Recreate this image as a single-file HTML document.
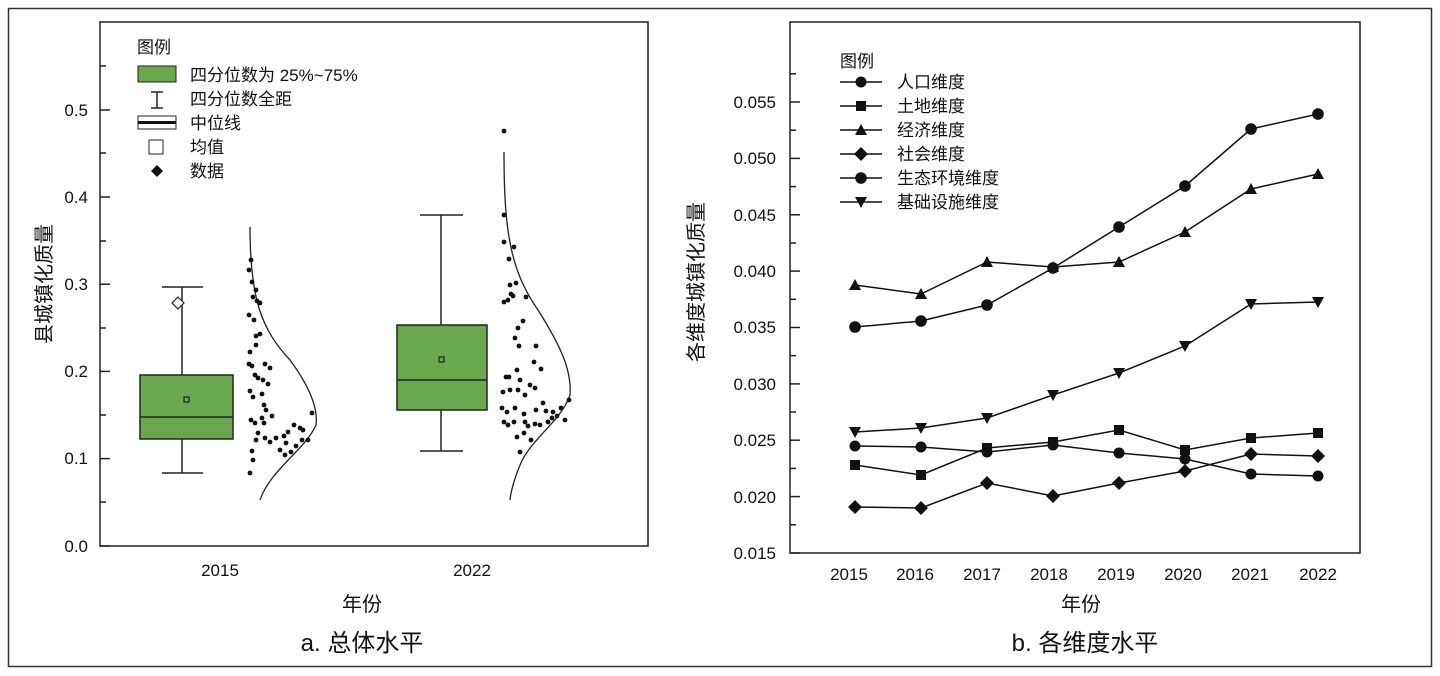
<!DOCTYPE html>
<html><head><meta charset="utf-8"><style>
html,body{margin:0;padding:0;background:#fff;}
svg{display:block;font-family:"Liberation Sans","Noto Sans CJK SC",sans-serif;}
</style></head><body>
<svg width="1440" height="676" viewBox="0 0 1440 676" xmlns="http://www.w3.org/2000/svg">
<rect x="8.5" y="8.5" width="1423" height="658" fill="#fff" stroke="#333" stroke-width="1.5"/>
<!-- LEFT PANEL -->
<rect x="100" y="22" width="548" height="524" fill="none" stroke="#222" stroke-width="1.5"/>
<g stroke="#222" stroke-width="1.5">
<line x1="100" y1="546" x2="110" y2="546"/><line x1="100" y1="458.6" x2="110" y2="458.6"/><line x1="100" y1="371.4" x2="110" y2="371.4"/><line x1="100" y1="284.2" x2="110" y2="284.2"/><line x1="100" y1="197" x2="110" y2="197"/><line x1="100" y1="110" x2="110" y2="110"/>
<line x1="100" y1="502" x2="106" y2="502"/><line x1="100" y1="415" x2="106" y2="415"/><line x1="100" y1="328" x2="106" y2="328"/><line x1="100" y1="241" x2="106" y2="241"/><line x1="100" y1="153" x2="106" y2="153"/><line x1="100" y1="66" x2="106" y2="66"/>
</g>
<g font-size="17" text-anchor="end" fill="#111">
<text x="88" y="552">0.0</text><text x="88" y="464">0.1</text><text x="88" y="377">0.2</text><text x="88" y="290">0.3</text><text x="88" y="203">0.4</text><text x="88" y="116">0.5</text>
</g>
<text transform="translate(51,284) rotate(-90)" font-size="20" text-anchor="middle" fill="#111">县城镇化质量</text>
<g font-size="17" text-anchor="middle" fill="#111"><text x="220" y="576">2015</text><text x="472" y="576">2022</text></g>
<text x="362" y="611" font-size="20" text-anchor="middle" fill="#111">年份</text>
<text x="362" y="651" font-size="24" text-anchor="middle" fill="#111">a. 总体水平</text>
<!-- legend left -->
<g font-size="17" fill="#111">
<text x="137" y="53">图例</text>
<rect x="138" y="66" width="38" height="16" fill="#6aa84f" stroke="#222" stroke-width="1"/>
<text x="190" y="81">四分位数为 25%~75%</text>
<g stroke="#222" stroke-width="1.5"><line x1="157" y1="92" x2="157" y2="108"/><line x1="151" y1="92" x2="163" y2="92"/><line x1="151" y1="108" x2="163" y2="108"/></g>
<text x="190" y="105">四分位数全距</text>
<rect x="138" y="116" width="38" height="13" fill="#fff" stroke="#222" stroke-width="1"/><line x1="138" y1="122.5" x2="176" y2="122.5" stroke="#111" stroke-width="3"/>
<text x="190" y="129">中位线</text>
<rect x="149" y="140" width="14" height="14" fill="#fff" stroke="#222" stroke-width="1"/>
<text x="190" y="153">均值</text>
<path d="M157 165 L163 171 L157 177 L151 171Z" fill="#111"/>
<text x="190" y="177">数据</text>
</g>
<!-- box 2015 -->
<g stroke="#222" stroke-width="1.5" fill="none">
<line x1="182" y1="287" x2="182" y2="375"/><line x1="182" y1="439" x2="182" y2="473"/>
<line x1="162" y1="287" x2="203" y2="287"/><line x1="162" y1="473" x2="203" y2="473"/>
<rect x="140" y="375" width="93" height="64" fill="#6aa84f"/>
<line x1="140" y1="417" x2="233" y2="417"/>
<rect x="184" y="397" width="5" height="5" stroke-width="1.2"/>
<path d="M178 297 L184 303 L178 309 L172 303Z" fill="#fff" stroke-width="1.2"/>
<path d="M250 227 C250 300 262 330 290 360 C312 390 318 410 316 425 C305 450 270 470 260 500" stroke-width="1.3"/>
</g>
<!-- box 2022 -->
<g stroke="#222" stroke-width="1.5" fill="none">
<line x1="441" y1="215" x2="441" y2="325"/><line x1="441" y1="410" x2="441" y2="451"/>
<line x1="420" y1="215" x2="463" y2="215"/><line x1="420" y1="451" x2="463" y2="451"/>
<rect x="397" y="325" width="90" height="85" fill="#6aa84f"/>
<line x1="397" y1="380" x2="487" y2="380"/>
<rect x="439" y="357" width="5" height="5" stroke-width="1.2"/>
<path d="M504 152 C504 230 510 270 538 310 C560 345 572 370 570 395 C562 420 530 440 520 465 C514 480 511 490 510 500" stroke-width="1.3"/>
</g>
<g fill="#111" id="d1">
<circle cx="251" cy="260" r="2.4"/><circle cx="249" cy="270" r="2.4"/><circle cx="252" cy="282" r="2.4"/><circle cx="256" cy="290" r="2.4"/><circle cx="253" cy="297" r="2.4"/><circle cx="257" cy="301" r="2.4"/><circle cx="260" cy="303" r="2.4"/><circle cx="249" cy="315" r="2.4"/><circle cx="254" cy="320" r="2.4"/><circle cx="256" cy="336" r="2.4"/><circle cx="260" cy="334" r="2.4"/><circle cx="250" cy="352" r="2.4"/><circle cx="256" cy="345" r="2.4"/><circle cx="249" cy="364" r="2.4"/><circle cx="252" cy="366" r="2.4"/><circle cx="265" cy="364" r="2.4"/><circle cx="270" cy="368" r="2.4"/><circle cx="255" cy="375" r="2.4"/><circle cx="258" cy="378" r="2.4"/><circle cx="263" cy="380" r="2.4"/><circle cx="268" cy="384" r="2.4"/><circle cx="250" cy="391" r="2.4"/><circle cx="253" cy="397" r="2.4"/><circle cx="262" cy="394" r="2.4"/><circle cx="264" cy="405" r="2.4"/><circle cx="266" cy="410" r="2.4"/><circle cx="251" cy="420" r="2.4"/><circle cx="255" cy="423" r="2.4"/><circle cx="262" cy="418" r="2.4"/><circle cx="272" cy="416" r="2.4"/><circle cx="258" cy="433" r="2.4"/><circle cx="256" cy="440" r="2.4"/><circle cx="265" cy="438" r="2.4"/><circle cx="276" cy="438" r="2.4"/><circle cx="284" cy="436" r="2.4"/><circle cx="288" cy="432" r="2.4"/><circle cx="294" cy="425" r="2.4"/><circle cx="300" cy="428" r="2.4"/><circle cx="303" cy="430" r="2.4"/><circle cx="312" cy="413" r="2.4"/><circle cx="252" cy="451" r="2.4"/><circle cx="253" cy="460" r="2.4"/><circle cx="250" cy="473" r="2.4"/><circle cx="280" cy="450" r="2.4"/><circle cx="285" cy="455" r="2.4"/><circle cx="296" cy="446" r="2.4"/><circle cx="302" cy="440" r="2.4"/><circle cx="308" cy="440" r="2.4"/><circle cx="264" cy="423" r="2.4"/><circle cx="286" cy="443" r="2.4"/><circle cx="270" cy="442" r="2.4"/><circle cx="291" cy="452" r="2.4"/>
<circle cx="504" cy="131" r="2.4"/><circle cx="504" cy="215" r="2.4"/><circle cx="504" cy="242" r="2.4"/><circle cx="514" cy="247" r="2.4"/><circle cx="509" cy="259" r="2.4"/><circle cx="510" cy="285" r="2.4"/><circle cx="516" cy="283" r="2.4"/><circle cx="511" cy="294" r="2.4"/><circle cx="513" cy="296" r="2.4"/><circle cx="504" cy="302" r="2.4"/><circle cx="508" cy="300" r="2.4"/><circle cx="526" cy="297" r="2.4"/><circle cx="518" cy="328" r="2.4"/><circle cx="523" cy="321" r="2.4"/><circle cx="515" cy="338" r="2.4"/><circle cx="519" cy="346" r="2.4"/><circle cx="536" cy="346" r="2.4"/><circle cx="517" cy="370" r="2.4"/><circle cx="534" cy="362" r="2.4"/><circle cx="541" cy="369" r="2.4"/><circle cx="506" cy="377" r="2.4"/><circle cx="509" cy="377" r="2.4"/><circle cx="520" cy="380" r="2.4"/><circle cx="503" cy="392" r="2.4"/><circle cx="510" cy="390" r="2.4"/><circle cx="518" cy="390" r="2.4"/><circle cx="530" cy="385" r="2.4"/><circle cx="525" cy="395" r="2.4"/><circle cx="535" cy="388" r="2.4"/><circle cx="502" cy="408" r="2.4"/><circle cx="507" cy="412" r="2.4"/><circle cx="515" cy="408" r="2.4"/><circle cx="524" cy="414" r="2.4"/><circle cx="536" cy="410" r="2.4"/><circle cx="543" cy="403" r="2.4"/><circle cx="546" cy="411" r="2.4"/><circle cx="553" cy="412" r="2.4"/><circle cx="561" cy="408" r="2.4"/><circle cx="569" cy="400" r="2.4"/><circle cx="557" cy="416" r="2.4"/><circle cx="504" cy="422" r="2.4"/><circle cx="508" cy="425" r="2.4"/><circle cx="514" cy="422" r="2.4"/><circle cx="525" cy="422" r="2.4"/><circle cx="535" cy="424" r="2.4"/><circle cx="548" cy="422" r="2.4"/><circle cx="552" cy="418" r="2.4"/><circle cx="517" cy="437" r="2.4"/><circle cx="524" cy="433" r="2.4"/><circle cx="531" cy="440" r="2.4"/><circle cx="520" cy="452" r="2.4"/><circle cx="528" cy="426" r="2.4"/><circle cx="540" cy="425" r="2.4"/><circle cx="565" cy="420" r="2.4"/>
</g>
<!-- RIGHT PANEL -->
<rect x="790" y="22" width="570" height="531" fill="none" stroke="#222" stroke-width="1.5"/>
<g stroke="#222" stroke-width="1.5">
<line x1="790" y1="553" x2="800" y2="553"/><line x1="790" y1="496.6" x2="800" y2="496.6"/><line x1="790" y1="440.2" x2="800" y2="440.2"/><line x1="790" y1="383.9" x2="800" y2="383.9"/><line x1="790" y1="327.5" x2="800" y2="327.5"/><line x1="790" y1="271.1" x2="800" y2="271.1"/><line x1="790" y1="214.8" x2="800" y2="214.8"/><line x1="790" y1="158.4" x2="800" y2="158.4"/><line x1="790" y1="102" x2="800" y2="102"/>
<line x1="790" y1="524.8" x2="796" y2="524.8"/><line x1="790" y1="468.4" x2="796" y2="468.4"/><line x1="790" y1="412" x2="796" y2="412"/><line x1="790" y1="355.7" x2="796" y2="355.7"/><line x1="790" y1="299.3" x2="796" y2="299.3"/><line x1="790" y1="243" x2="796" y2="243"/><line x1="790" y1="186.6" x2="796" y2="186.6"/><line x1="790" y1="130.2" x2="796" y2="130.2"/><line x1="790" y1="73.8" x2="796" y2="73.8"/>
</g>
<g font-size="17" text-anchor="end" fill="#111">
<text x="776" y="559">0.015</text><text x="776" y="503">0.020</text><text x="776" y="446">0.025</text><text x="776" y="390">0.030</text><text x="776" y="333">0.035</text><text x="776" y="277">0.040</text><text x="776" y="221">0.045</text><text x="776" y="164">0.050</text><text x="776" y="108">0.055</text>
</g>
<text transform="translate(703,282) rotate(-90)" font-size="20" text-anchor="middle" fill="#111">各维度城镇化质量</text>
<g font-size="17" text-anchor="middle" fill="#111"><text x="849" y="580">2015</text><text x="915" y="580">2016</text><text x="982" y="580">2017</text><text x="1049" y="580">2018</text><text x="1116" y="580">2019</text><text x="1183" y="580">2020</text><text x="1250" y="580">2021</text><text x="1318" y="580">2022</text></g>
<text x="1081" y="611" font-size="20" text-anchor="middle" fill="#111">年份</text>
<text x="1085" y="651" font-size="24" text-anchor="middle" fill="#111">b. 各维度水平</text>
<g fill="none" stroke="#111" stroke-width="1.5">
<polyline points="855,446 921,447 987,452 1053,445 1119,453 1185,459 1251,474 1318,476"/>
<polyline points="855,465 921,475 987,448 1053,442 1119,430 1185,450 1251,438 1318,433"/>
<polyline points="855,285 921,294 987,262 1053,267 1119,262 1185,232 1251,189 1318,174"/>
<polyline points="855,507 921,508 987,483 1053,496 1119,483 1185,471 1251,454 1318,456"/>
<polyline points="855,327 921,321 987,305 1053,268 1119,227 1185,186 1251,129 1318,114"/>
<polyline points="855,432 921,428 987,418 1053,395 1119,373 1185,346 1251,304 1318,302"/>
</g>
<g fill="#111">
<g id="c"><circle cx="855" cy="446" r="5.5"/><circle cx="921" cy="447" r="5.5"/><circle cx="987" cy="452" r="5.5"/><circle cx="1053" cy="445" r="5.5"/><circle cx="1119" cy="453" r="5.5"/><circle cx="1185" cy="459" r="5.5"/><circle cx="1251" cy="474" r="5.5"/><circle cx="1318" cy="476" r="5.5"/></g>
<rect x="850" y="460" width="10" height="10"/><rect x="916" y="470" width="10" height="10"/><rect x="982" y="443" width="10" height="10"/><rect x="1048" y="437" width="10" height="10"/><rect x="1114" y="425" width="10" height="10"/><rect x="1180" y="445" width="10" height="10"/><rect x="1246" y="433" width="10" height="10"/><rect x="1313" y="428" width="10" height="10"/>
<path d="M855 279l6 11h-12z M921 288l6 11h-12z M987 256l6 11h-12z M1053 261l6 11h-12z M1119 256l6 11h-12z M1185 226l6 11h-12z M1251 183l6 11h-12z M1318 168l6 11h-12z"/>
<path d="M855 500l7 7l-7 7l-7-7z M921 501l7 7l-7 7l-7-7z M987 476l7 7l-7 7l-7-7z M1053 489l7 7l-7 7l-7-7z M1119 476l7 7l-7 7l-7-7z M1185 464l7 7l-7 7l-7-7z M1251 447l7 7l-7 7l-7-7z M1318 449l7 7l-7 7l-7-7z"/>
<g><circle cx="855" cy="327" r="5.8"/><circle cx="921" cy="321" r="5.8"/><circle cx="987" cy="305" r="5.8"/><circle cx="1053" cy="268" r="5.8"/><circle cx="1119" cy="227" r="5.8"/><circle cx="1185" cy="186" r="5.8"/><circle cx="1251" cy="129" r="5.8"/><circle cx="1318" cy="114" r="5.8"/></g>
<path d="M855 438l6-11h-12z M921 434l6-11h-12z M987 424l6-11h-12z M1053 401l6-11h-12z M1119 379l6-11h-12z M1185 352l6-11h-12z M1251 310l6-11h-12z M1318 308l6-11h-12z"/>
</g>
<!-- legend right -->
<g font-size="17" fill="#111">
<text x="840" y="67">图例</text>
<g stroke="#111" stroke-width="1.5"><line x1="840" y1="82" x2="882" y2="82"/><line x1="840" y1="106" x2="882" y2="106"/><line x1="840" y1="130" x2="882" y2="130"/><line x1="840" y1="154" x2="882" y2="154"/><line x1="840" y1="178" x2="882" y2="178"/><line x1="840" y1="202" x2="882" y2="202"/></g>
<circle cx="861" cy="82" r="5.5" stroke="#fff" stroke-width="0"/><circle cx="861" cy="82" r="3.5" fill="#111"/>
<rect x="856" y="101" width="10" height="10"/>
<path d="M861 124l6 11h-12z"/>
<path d="M861 147l7 7l-7 7l-7-7z"/>
<circle cx="861" cy="178" r="5.8"/>
<path d="M861 208l6-11h-12z"/>
<text x="897" y="88">人口维度</text><text x="897" y="112">土地维度</text><text x="897" y="136">经济维度</text><text x="897" y="160">社会维度</text><text x="897" y="184">生态环境维度</text><text x="897" y="208">基础设施维度</text>
</g>
</svg>
</body></html>
